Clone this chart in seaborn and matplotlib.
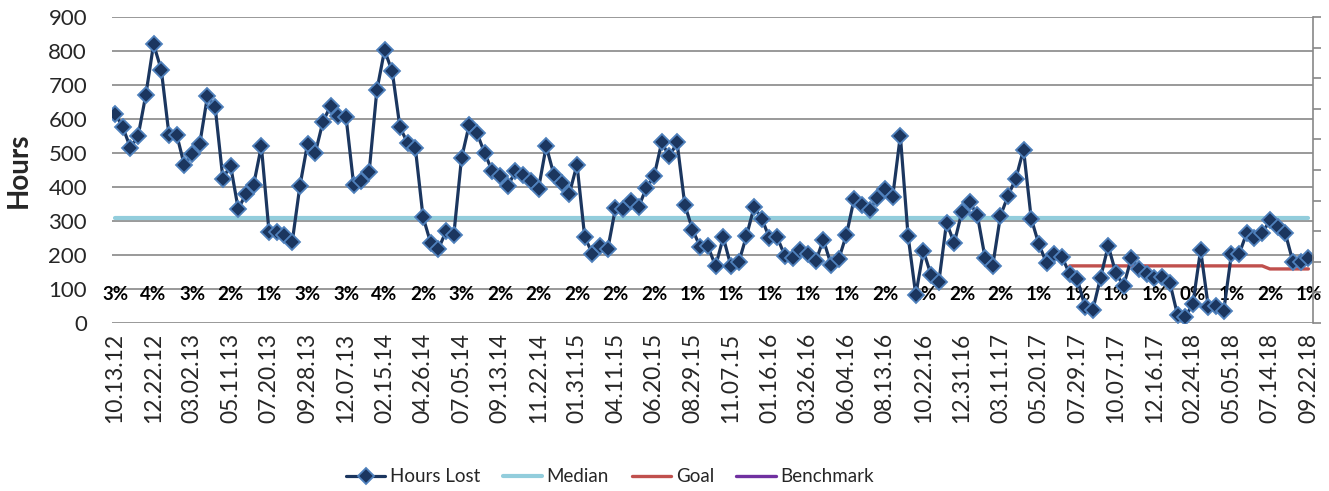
import numpy as np
import pandas as pd
import matplotlib
matplotlib.use("Agg")
import matplotlib.pyplot as plt
import seaborn as sns
from matplotlib.lines import Line2D

# ---------------- data ----------------
tick_labels = ["10.13.12", "12.22.12", "03.02.13", "05.11.13", "07.20.13", "09.28.13",
               "12.07.13", "02.15.14", "04.26.14", "07.05.14", "09.13.14", "11.22.14",
               "01.31.15", "04.11.15", "06.20.15", "08.29.15", "11.07.15", "01.16.16",
               "03.26.16", "06.04.16", "08.13.16", "10.22.16", "12.31.16", "03.11.17",
               "05.20.17", "07.29.17", "10.07.17", "12.16.17", "02.24.18", "05.05.18",
               "07.14.18", "09.22.18"]

pct_labels = ["3%", "4%", "3%", "2%", "1%", "3%", "3%", "4%", "2%", "3%", "2%", "2%",
              "2%", "2%", "2%", "1%", "1%", "1%", "1%", "1%", "2%", "1%", "2%", "2%",
              "1%", "1%", "1%", "1%", "0%", "1%", "2%", "1%"]

hours_lost = [616, 576, 515, 551, 672, 820, 745, 554, 554, 464,
              498, 527, 667, 635, 425, 463, 335, 380, 407, 520,
              267, 267, 260, 237, 402, 527, 500, 592, 639, 608,
              606, 405, 419, 444, 684, 802, 740, 576, 529, 515,
              312, 235, 218, 270, 260, 485, 583, 559, 500, 446,
              431, 402, 446, 436, 419, 395, 520, 436, 412, 380,
              466, 253, 204, 227, 218, 338, 335, 358, 341, 397,
              431, 531, 490, 531, 348, 275, 224, 226, 167, 252,
              167, 178, 255, 341, 307, 250, 252, 198, 191, 214,
              204, 181, 245, 172, 188, 260, 365, 348, 333, 367,
              395, 371, 551, 257, 83, 212, 140, 121, 295, 235,
              327, 355, 318, 192, 169, 315, 375, 425, 510, 307,
              231, 176, 202, 194, 144, 128, 47, 39, 133, 227,
              146, 110, 190, 160, 144, 131, 134, 119, 24, 17,
              57, 215, 48, 50, 35, 202, 203, 265, 249, 264,
              302, 283, 264, 180, 180, 190]

median_hours = 310
goal_start = 124
goal_level_1 = 168
goal_step = 150
goal_level_2 = 159

n = len(hours_lost)
idx = np.arange(n)
goal = [np.nan] * goal_start + [goal_level_1] * (goal_step - goal_start) + [goal_level_2] * (n - goal_step)
df = pd.DataFrame({"idx": idx, "Hours Lost": hours_lost,
                   "Median": [median_hours] * n, "Goal": goal})

# ---------------- style ----------------
sns.set_style("white")
plt.rcParams["font.family"] = ["Lato", "DejaVu Sans"]

C_HOURS = "#1B365F"
C_EDGE = "#4F81BD"
C_MEDIAN = "#92CDDC"
C_GOAL = "#C0504D"
C_BENCH = "#7030A0"
C_GRID = "#878787"

fig = plt.figure(figsize=(13.29, 4.91), dpi=100)
ax = fig.add_axes([112 / 1329, 1 - 323 / 491, (1313 - 112) / 1329, (323 - 17) / 491])

sns.lineplot(data=df, x="idx", y="Median", color=C_MEDIAN, linewidth=3.0,
             estimator=None, ax=ax, zorder=3)
sns.lineplot(data=df.dropna(subset=["Goal"]), x="idx", y="Goal", color=C_GOAL,
             linewidth=2.4, estimator=None, ax=ax, zorder=3)
sns.lineplot(data=df, x="idx", y="Hours Lost", color=C_HOURS, linewidth=2.3,
             marker="D", markersize=7.7, markerfacecolor=C_HOURS,
             markeredgecolor=C_EDGE, markeredgewidth=1.3, estimator=None,
             ax=ax, zorder=4)

for k, lab in enumerate(pct_labels):
    ax.text(5 * k, 85, lab, ha="center", va="center", fontsize=13.5,
            fontweight="bold", color="black", zorder=3.5)

ax.set_ylim(0, 900)
ax.set_yticks(range(0, 901, 100))
ax.set_xlim(-0.4, n - 1 + 0.6)
ax.set_xticks(range(0, n, 5))
ax.set_xticklabels(tick_labels, rotation=90)
ax.grid(axis="y", color=C_GRID, linewidth=1.2)
ax.grid(axis="x", visible=False)
ax.set_axisbelow(True)
for s in ax.spines.values():
    s.set_visible(False)
ax.tick_params(axis="y", length=0, pad=18, labelsize=16)
ax.tick_params(axis="x", length=0, pad=7, labelsize=16.5)
ax.set_xlabel("")
ax.set_ylabel("Hours", fontsize=20, fontweight="bold")
ax.yaxis.set_label_coords(-0.0666, 0.5)

# secondary axis (ticks only)
ax2 = ax.twinx()
ax2.set_ylim(0, 10)
ax2.set_yticks(range(0, 11))
ax2.set_yticklabels([])
for name, s in ax2.spines.items():
    s.set_visible(name == "right")
ax2.spines["right"].set_color(C_GRID)
ax2.spines["right"].set_linewidth(1.2)
ax2.tick_params(axis="y", direction="out", length=5.5, width=1.2, color=C_GRID)
ax2.tick_params(axis="x", length=0)

handles = [
    Line2D([], [], color=C_HOURS, linewidth=2.3, marker="D", markersize=7.7,
           markerfacecolor=C_HOURS, markeredgecolor=C_EDGE, markeredgewidth=1.3),
    Line2D([], [], color=C_MEDIAN, linewidth=3.0),
    Line2D([], [], color=C_GOAL, linewidth=2.4),
    Line2D([], [], color=C_BENCH, linewidth=2.4),
]
fig.legend(handles, ["Hours Lost", "Median", "Goal", "Benchmark"], loc="center",
           bbox_to_anchor=(610 / 1329, 1 - 477 / 491), ncol=4, frameon=False,
           fontsize=13.5, handlelength=2.1, handletextpad=0.25, columnspacing=1.2)

fig.savefig("out.png", dpi=100)
